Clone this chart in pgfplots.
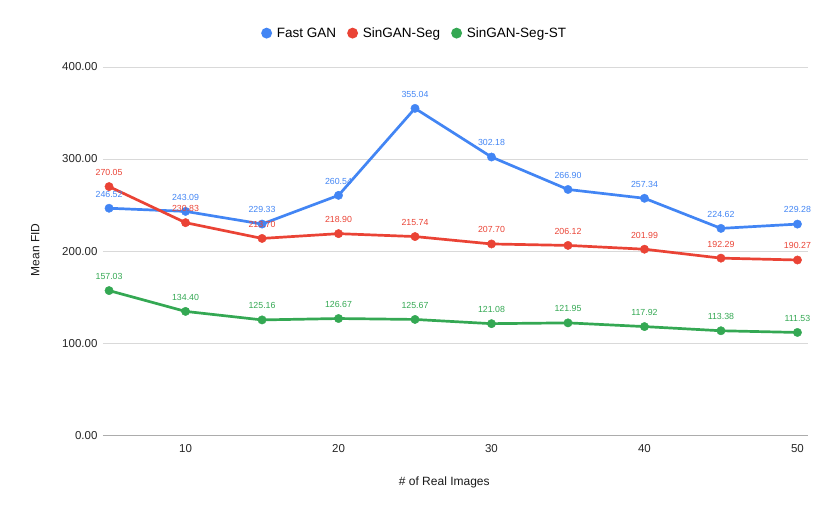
\documentclass[border=0pt]{standalone}
\usepackage{fontspec}
\setmainfont{Liberation Sans}
\usepackage{pgfplots}
\pgfplotsset{compat=1.18}

\definecolor{gblue}{HTML}{4285F4}
\definecolor{gred}{HTML}{EA4335}
\definecolor{ggreen}{HTML}{34A853}

\pgfplotstableread{
n  fast    seg     segst
5  246.52  270.05  157.03
10 243.09  230.83  134.40
15 229.33  213.70  125.16
20 260.54  218.90  126.67
25 355.04  215.74  125.67
30 302.18  207.70  121.08
35 266.90  206.12  121.95
40 257.34  201.99  117.92
45 224.62  192.29  113.38
50 229.28  190.27  111.53
}\fid

\begin{document}
\begin{tikzpicture}
\begin{axis}[
    scale only axis,
    width=705pt, height=368pt,
    xmin=4.6, xmax=50.7,
    ymin=0, ymax=400,
    xtick={10,20,30,40,50},
    ytick={0,100,200,300,400},
    axis line style={draw=none},
    major tick length=0pt,
    ymajorgrids=true,
    grid style={gray!30, line width=0.8pt},
    /pgf/number format/assume math mode=true,
    yticklabel style={/pgf/number format/fixed, /pgf/number format/fixed zerofill,
        /pgf/number format/precision=2, xshift=-2pt},
    ticklabel style={font=\fontsize{11.5}{13}\selectfont, text=black!85},
    xticklabel style={yshift=-6pt},
    xlabel={\# of Real Images},
    ylabel={Mean FID},
    label style={font=\fontsize{12}{14}\selectfont, text=black!90},
    xlabel style={at={(rel axis cs:0.484,-0.128)}, anchor=center},
    ylabel style={at={(rel axis cs:-0.096,0.503)}, anchor=center},
    clip=false,
    every axis plot/.append style={line width=2.7pt, mark=*, mark size=4.2pt,
        mark options={solid, line width=0.4pt}},
    nodes near coords,
    nodes near coords style={font=\fontsize{8.8}{10}\selectfont, yshift=7.5pt,
        /pgf/number format/fixed, /pgf/number format/fixed zerofill,
        /pgf/number format/precision=2},
    legend style={draw=none, legend columns=-1, at={(rel axis cs:0.442,1.092)}, anchor=center,
        font=\fontsize{13.5}{15}\selectfont,
        /tikz/every odd column/.append style={column sep=3pt},
        /tikz/every even column/.append style={column sep=9pt}},
    legend image code/.code={\fill (0pt,0pt) circle (4pt);},
]
\draw[gray!65, line width=0.9pt] (rel axis cs:0,0) -- (rel axis cs:1,0);
\addplot[color=gblue, every node near coord/.append style={text=gblue}] table[x=n, y=fast] {\fid};
\addlegendentry{Fast GAN}
\addplot[color=gred, every node near coord/.append style={text=gred}] table[x=n, y=seg] {\fid};
\addlegendentry{SinGAN-Seg}
\addplot[color=ggreen, every node near coord/.append style={text=ggreen}] table[x=n, y=segst] {\fid};
\addlegendentry{SinGAN-Seg-ST}
\coordinate (bl) at (rel axis cs:-0.146,-0.217);
\coordinate (tr) at (rel axis cs:1.031,1.182);
\end{axis}
\path (bl) rectangle (tr);
\end{tikzpicture}
\end{document}
